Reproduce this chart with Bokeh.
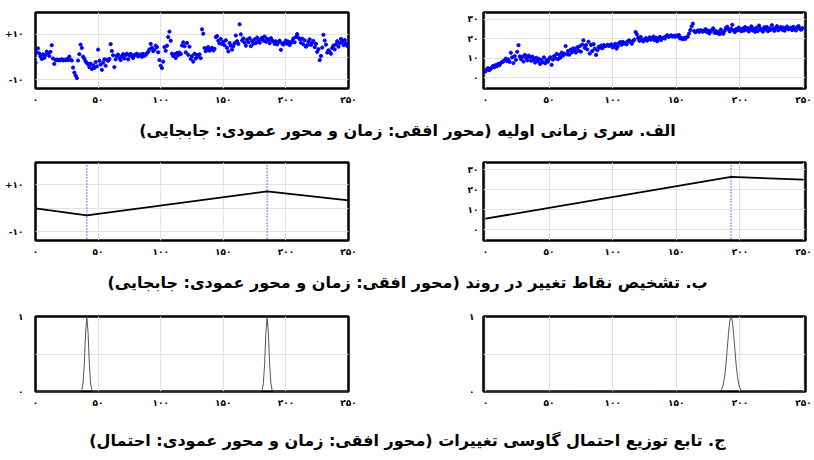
from bokeh.plotting import figure
from bokeh.layouts import column, row
from bokeh.models import Span, Label, FixedTicker, Range1d
from bokeh.embed import file_html
from bokeh.resources import INLINE

# ---------------- data ----------------
time_steps = list(range(250))

disp_left = [
    -2.5, 2.1, 3.8, 1.6, 0.3, -0.8, 1.2, -0.4, 0.9, 2.4,
    1.8, 0.5, 2.3, 5.2, -0.6, -3.0, -1.3, -1.1, -1.4, -1.2,
    -1.3, -1.0, -1.5, -1.2, -1.4, -0.9, -1.3, 0.2, -1.2, -1.5,
    -4.6, -6.8, -8.0, -9.2, -1.5, 1.3, 5.5, 4.0, 0.2, -0.7,
    -1.8, -2.6, -3.1, -4.4, -2.9, -5.2, -3.6, -4.8, -2.2, -4.1,
    3.3, -1.6, -3.3, -5.6, -2.4, -1.0, -3.8, -1.2, -1.6, -0.8,
    5.7, 2.7, 0.8, -4.4, -1.0, 0.6, 1.1, -0.3, -1.3, 0.4,
    1.3, -0.6, 0.9, 1.5, -1.0, 0.7, 1.4, 0.2, -0.4, 1.0,
    0.9, 1.5, 0.3, 0.8, 1.2, 0.1, 1.4, 0.6, 1.0, 1.7,
    2.3, 3.4, 5.8, 4.1, 2.6, 3.2, 5.0, 4.4, 2.1, -1.3,
    -3.8, -4.8, -2.0, 4.4, 2.8, 5.0, 8.8, 11.2, 7.2, 1.5,
    0.5, 1.2, -0.4, 1.8, 0.9, 2.0, 1.3, 5.1, 6.5, 4.8,
    2.1, 6.2, 1.0, 4.6, -0.8, 0.4, -2.0, 1.5, -0.6, 0.9,
    0.3, 1.2, -0.5, 12.2, 10.3, 4.0, 2.6, 3.8, 4.4, 2.8,
    3.5, 4.0, 2.9, 3.6, 8.8, 9.2, 7.2, 6.0, 8.0, 5.8,
    6.7, 5.2, 7.4, 4.1, 2.5, 6.2, 5.0, 3.3, 4.8, 6.1,
    9.5, 7.0, 5.8, 14.4, 10.0, 7.3, 8.2, 6.4, 5.0, 7.7,
    6.5, 8.3, 4.8, 7.0, 5.9, 7.8, 6.2, 8.6, 7.1, 6.3,
    7.9, 8.5, 7.2, 9.0, 6.8, 8.0, 7.5, 6.1, 8.3, 7.4,
    7.0, 5.8, 6.9, 5.6, 6.5, 7.2, 3.2, 6.0, 5.5, 6.4,
    7.3, 5.9, 6.8, 5.3, 6.2, 7.0, 8.2, 6.5, 8.8, 10.1,
    8.6, 7.9, 6.3, 8.1, 5.6, 7.4, 4.6, 5.2, 6.7, 7.8,
    5.4, 6.3, 7.1, 4.4, 5.8, 2.3, 3.5, -1.3, 0.5, 4.2,
    9.8, 7.3, 5.5, 2.0, 3.0, 2.4, 1.5, 4.0, 5.1, 3.4,
    5.6, 7.0, 4.6, 6.2, 8.0, 6.8, 5.3, 7.5, 6.0, 4.9,
]

disp_right = [
    3.3, 4.2, 5.0, 4.0, 4.6, 5.3, 6.1, 5.5, 6.6, 6.0,
    7.2, 6.5, 7.6, 8.1, 8.4, 9.0, 9.9, 8.7, 9.5, 8.2,
    12.9, 10.5, 7.6, 11.2, 9.3, 13.4, 16.8, 11.0, 9.6, 10.8,
    8.4, 11.8, 10.2, 9.0, 11.4, 10.6, 8.8, 10.9, 9.5, 7.9,
    10.3, 8.6, 9.8, 7.2, 9.2, 8.0, 10.5, 7.5, 9.1, 8.3,
    9.7, 10.6, 6.7, 9.4, 11.2, 10.1, 12.3, 9.6, 11.8, 10.4,
    13.0, 11.5, 12.4, 16.3, 12.1, 13.8, 11.9, 14.5, 13.2, 15.1,
    14.3, 13.0, 15.6, 14.0, 16.2, 13.5, 17.1, 19.3, 15.4, 16.8,
    14.6, 18.5, 12.5, 16.9, 13.8, 17.3, 15.0, 11.8, 14.2, 16.0,
    15.5, 16.6, 15.2, 16.8, 16.3, 16.5, 17.0, 16.4, 16.7, 17.2,
    15.6, 16.2, 17.5, 15.0, 16.1, 17.8, 18.3, 17.0, 18.5, 17.6,
    18.0, 17.2, 18.8, 19.2, 18.4, 17.5, 18.9, 19.6, 23.5, 22.3,
    20.5, 19.0, 21.0, 19.5, 18.7, 19.8, 20.4, 19.1, 19.9, 20.8,
    19.6, 20.1, 21.2, 19.3, 20.6, 18.8, 20.0, 21.0, 19.4, 20.3,
    20.7, 20.2, 21.4, 21.9, 21.0, 21.5, 21.8, 21.2, 21.6, 21.1,
    21.7, 21.3, 22.0, 20.2, 20.6, 19.8, 20.4, 20.0, 20.8, 21.2,
    22.7, 24.5, 26.4, 27.8, 24.0, 23.4, 23.8, 24.3, 23.6, 24.5,
    24.0, 23.7, 24.4, 25.0, 23.5, 24.2, 22.8, 23.9, 24.6, 25.4,
    23.1, 24.0, 22.9, 23.6, 22.4, 24.8, 23.3, 22.6, 24.1, 25.6,
    26.2, 24.9, 23.8, 25.2, 27.2, 24.3, 23.5, 25.0, 24.4, 25.8,
    24.6, 23.9, 25.3, 24.2, 26.0, 24.7, 25.5, 23.8, 24.9, 26.4,
    24.3, 25.1, 23.6, 25.7, 24.0, 26.8, 25.2, 24.5, 23.7, 25.9,
    24.8, 26.1, 23.9, 25.4, 24.6, 27.0, 25.3, 24.1, 25.6, 26.5,
    24.4, 25.2, 26.0, 24.7, 25.8, 24.2, 25.5, 26.3, 24.9, 25.1,
    25.7, 24.5, 26.2, 25.0, 24.3, 25.9, 26.6, 25.2, 24.7, 25.5,
]

trend_left_t = [0, 41, 185, 250]
trend_left_v = [0.0, -3.0, 7.2, 3.4]
change_left = [41, 185]

trend_right_t = [0, 193, 250]
trend_right_v = [5.5, 26.3, 25.0]
change_right = [193]

prob_left_t = [0, 36, 37, 38, 39, 40, 41, 42, 43, 44, 45, 46,
               180, 181, 182, 183, 184, 185, 186, 187, 188, 189, 190, 250]
prob_left_p = [0.0, 0.0, 0.02, 0.11, 0.37, 0.78, 1.0, 0.78, 0.37, 0.11, 0.02, 0.0,
               0.0, 0.02, 0.11, 0.37, 0.78, 1.0, 0.78, 0.37, 0.11, 0.02, 0.0, 0.0]

prob_right_t = [0, 184, 185, 186, 187, 188, 189, 190, 191, 192, 193, 194, 195,
                196, 197, 198, 199, 200, 201, 202, 250]
prob_right_p = [0.0, 0.006, 0.017, 0.044, 0.101, 0.203, 0.36, 0.563, 0.775, 0.938, 1.0,
                0.938, 0.775, 0.563, 0.36, 0.203, 0.101, 0.044, 0.017, 0.006, 0.0]

x_ticks = [0, 50, 100, 150, 200, 250]
x_tick_labels = ["۰", "۵۰", "۱۰۰", "۱۵۰", "۲۰۰", "۲۵۰"]
y_ticks_left = [-10, 0, 10]
y_labels_left = ["-۱۰", "", "+۱۰"]
y_ticks_right = [0, 10, 20, 30]
y_labels_right = ["۰", "۱۰", "۲۰", "۳۰"]
y_ticks_prob = [0, 0.5, 1]
y_labels_prob = ["۰", "", "۱"]

captions = [
    "الف. سری زمانی اولیه (محور افقی: زمان و محور عمودی: جابجایی)\u200f",
    "ب. تشخیص نقاط تغییر در روند (محور افقی: زمان و محور عمودی: جابجایی)\u200f",
    "ج. تابع توزیع احتمال گاوسی تغییرات (محور افقی: زمان و محور عمودی: احتمال)\u200f",
]

FONT = "DejaVu Sans"


def panel(xr, yr, yticks, ylabels, w, h, bl, br, bt, bb, ystand):
    p = figure(width=w, height=h,
               x_range=Range1d(*xr), y_range=Range1d(*yr),
               output_backend="svg", toolbar_location=None,
               min_border_left=bl, min_border_right=br,
               min_border_top=bt, min_border_bottom=bb,
               background_fill_color="white", border_fill_color="white")
    p.outline_line_color = "black"
    p.outline_line_width = 2.5
    p.xaxis.ticker = FixedTicker(ticks=x_ticks)
    p.xaxis.major_label_overrides = {t: l for t, l in zip(x_ticks, x_tick_labels)}
    p.yaxis.ticker = FixedTicker(ticks=yticks)
    p.yaxis.major_label_overrides = {t: l for t, l in zip(yticks, ylabels)}
    for ax in (p.xaxis, p.yaxis):
        ax.axis_line_color = None
        ax.major_tick_line_color = None
        ax.minor_tick_line_color = None
        ax.major_tick_out = 0
        ax.major_tick_in = 0
        ax.minor_tick_out = 0
        ax.major_label_text_font = FONT
        ax.major_label_text_font_style = "bold"
        ax.major_label_text_font_size = "9px"
        ax.major_label_text_color = "black"
    p.xaxis.major_label_standoff = 6
    p.yaxis.major_label_standoff = ystand
    p.xgrid.grid_line_color = "#e2e2e2"
    p.ygrid.grid_line_color = "#e2e2e2"
    p.xgrid.grid_line_width = 1
    p.ygrid.grid_line_width = 1
    return p


def caption(text, h, offset):
    p = figure(width=814, height=h, x_range=Range1d(0, 1),
               y_range=Range1d(0, h), output_backend="svg",
               toolbar_location=None, x_axis_type=None, y_axis_type=None,
               min_border=0, outline_line_color=None)
    p.grid.visible = False
    p.add_layout(Label(x=0.5, y=h - offset, text=text, text_align="center",
                       text_baseline="middle", text_font=FONT,
                       text_font_style="bold", text_font_size="16px",
                       text_color="black"))
    return p


def change_marks(p, locations):
    for c in locations:
        p.add_layout(Span(location=c, dimension="height", line_color="#1a1aff",
                          line_dash="1 2", line_width=1.2))


LX = (0, 250)
RX = (-1.5, 251.5)
LY = (-13.8, 19.6)
RY = (-5.4, 33.5)
LW, RW = 408, 406

# row 1: original series
a_left = panel(LX, LY, y_ticks_left, y_labels_left, LW, 108, 35, 60, 8, 20, 12)
a_left.scatter(time_steps, disp_left, size=3.2, color="#0000ff")
a_right = panel(RX, RY, y_ticks_right, y_labels_right, RW, 108, 75, 9, 12, 19, 5)
a_right.scatter(time_steps, disp_right, size=3.2, color="#0000ff")

# row 2: trend change points
b_left = panel(LX, LY, y_ticks_left, y_labels_left, LW, 110, 35, 60, 10, 22, 12)
change_marks(b_left, change_left)
b_left.line(trend_left_t, trend_left_v, line_color="black", line_width=1.8)
b_right = panel(RX, RY, y_ticks_right, y_labels_right, RW, 110, 75, 9, 10, 22, 5)
change_marks(b_right, change_right)
b_right.line(trend_right_t, trend_right_v, line_color="black", line_width=1.8)

# row 3: gaussian probability
c_left = panel(LX, (0, 1), y_ticks_prob, y_labels_prob, LW, 108, 35, 60, 8, 21, 12)
c_left.line(prob_left_t, prob_left_p, line_color="#555555", line_width=1)
c_right = panel(RX, (0, 1), y_ticks_prob, y_labels_prob, RW, 108, 75, 9, 4, 25, 9)
c_right.line(prob_right_t, prob_right_p, line_color="#555555", line_width=1)

layout = column(
    row(a_left, a_right, spacing=0),
    caption(captions[0], 44, 22),
    row(b_left, b_right, spacing=0),
    caption(captions[1], 46, 20),
    row(c_left, c_right, spacing=0),
    caption(captions[2], 44, 24),
    spacing=0,
)

open("out.html", "w").write(file_html(layout, INLINE))
